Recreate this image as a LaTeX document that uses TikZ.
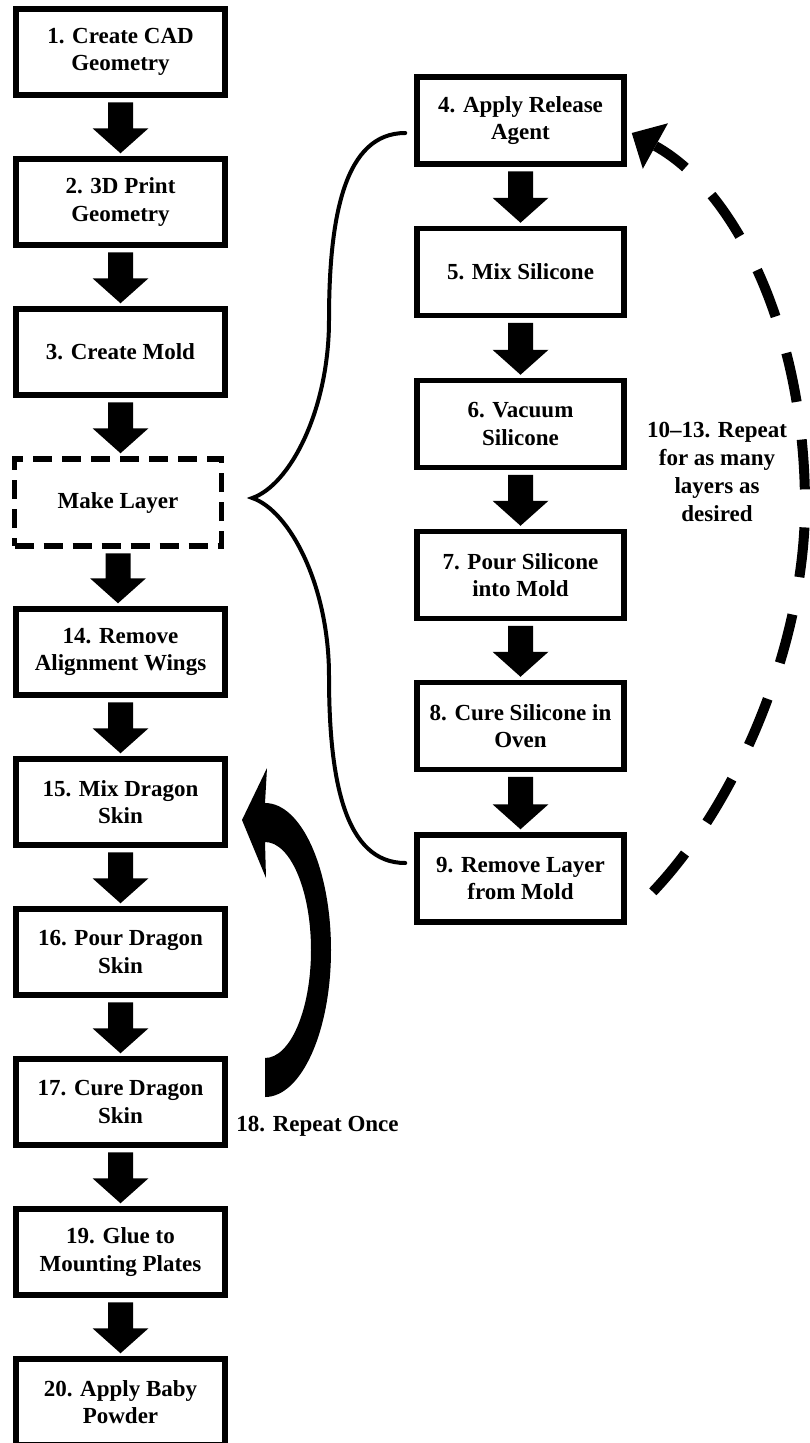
\documentclass[tikz,border=0pt]{standalone}
\usepackage{fontspec}
\setmainfont{Liberation Serif}
\usetikzlibrary{calc,arrows.meta}
\tikzset{
  box/.style={draw, line width=5.5pt, minimum width=209pt, minimum height=86pt, align=center,
    font=\bfseries\fontsize{23}{27.5}\selectfont, inner sep=0pt},
  rbox/.style={box, minimum width=207pt, minimum height=87pt},
  dbox/.style={box, dash pattern=on 19pt off 10pt, minimum width=207pt, minimum height=87pt},
  lbl/.style={align=center, font=\bfseries\fontsize{23}{28.3}\selectfont, inner sep=0pt},
  bracepath/.style={line width=4pt, line cap=round},
  looppath/.style={line width=10pt, dash pattern=on 50pt off 38pt, dash phase=13pt},
}
\newcommand\blkarrow[2]{%
  \fill ($(#1.south)+(-12.5,-4.5)$) -- ($(#1.south)+(12.5,-4.5)$)
   -- ($(#1.south |- #2.north)+(12.5,28)$) -- ($(#1.south |- #2.north)+(28,28)$)
   -- ($(#1.south |- #2.north)+(0,3)$) -- ($(#1.south |- #2.north)+(-28,28)$)
   -- ($(#1.south |- #2.north)+(-12.5,28)$) -- cycle;}
\begin{document}
\begin{tikzpicture}[x=1pt,y=1pt]
\useasboundingbox (0,0) rectangle (809,-1443);
% left column
\node[box] (n1) at (120.5,-52) {1. Create CAD\\Geometry};
\node[box] (n2) at (120.5,-202) {2. 3D Print\\Geometry};
\node[box] (n3) at (120.5,-352) {3. Create Mold};
\node[dbox] (ml) at (118,-502.5) {Make Layer};
\node[box] (n14) at (120.5,-652) {14. Remove\\Alignment Wings};
\node[box] (n15) at (120.5,-802) {15. Mix Dragon\\Skin};
\node[box] (n16) at (120.5,-952) {16. Pour Dragon\\Skin};
\node[box] (n17) at (120.5,-1102) {17. Cure Dragon\\Skin};
\node[box] (n19) at (120.5,-1252) {19. Glue to\\Mounting Plates};
\node[box] (n20) at (120.5,-1402) {20. Apply Baby\\Powder};
% right column
\node[rbox] (n4) at (520.5,-120.5) {4. Apply Release\\Agent};
\node[rbox] (n5) at (520.5,-272) {5. Mix Silicone};
\node[rbox] (n6) at (520.5,-424) {6. Vacuum\\Silicone};
\node[rbox] (n7) at (520.5,-575) {7. Pour Silicone\\into Mold};
\node[rbox] (n8) at (520.5,-726) {8. Cure Silicone in\\Oven};
\node[rbox] (n9) at (520.5,-878.5) {9. Remove Layer\\from Mold};
% block arrows
\blkarrow{n1}{n2}
\blkarrow{n2}{n3}
\blkarrow{n3}{ml}
\blkarrow{ml}{n14}
\blkarrow{n14}{n15}
\blkarrow{n15}{n16}
\blkarrow{n16}{n17}
\blkarrow{n17}{n19}
\blkarrow{n19}{n20}
\blkarrow{n4}{n5}
\blkarrow{n5}{n6}
\blkarrow{n6}{n7}
\blkarrow{n7}{n8}
\blkarrow{n8}{n9}
% brace
\coordinate (bt) at ($(ml.east)+(28,4.5)$);
\coordinate (b4) at ($(n4.west)+(-9,-12.5)$);
\coordinate (b9) at ($(n9.west)+(-9,15.5)$);
\draw[bracepath] (b4) .. controls (345,-133) and (329,-215) .. (329,-320)
  .. controls (329,-410) and (290,-485) .. (bt)
  .. controls (290,-511) and (329,-586) .. (329,-676)
  .. controls (329,-781) and (345,-863) .. (b9);
% dashed loop arrow
\coordinate (la) at ($(n4.east)+(5,-12.5)$);
\coordinate (lb) at ($(n9.east)+(23,-16.5)$);
\draw[looppath, {Triangle[length=27pt,width=52pt,line width=0pt]}-] (la)
  .. controls (735,-190) and (805,-330) .. (805,-505)
  .. controls (805,-640) and (740,-802) .. (lb);
\node[lbl] (l1013) at (717,-472) {10–13. Repeat\\for as many\\layers as\\desired};
% thick curved arrow
\fill (265,-1097) arc[start angle=-90, end angle=90, x radius=66, y radius=147]
  -- (267,-768) -- (242,-820) -- (266,-878) -- (265,-842)
  arc[start angle=90, end angle=-90, x radius=46, y radius=108] -- cycle;
\node[lbl] (l18) at (317.5,-1126) {18. Repeat Once};
\end{tikzpicture}
\end{document}
